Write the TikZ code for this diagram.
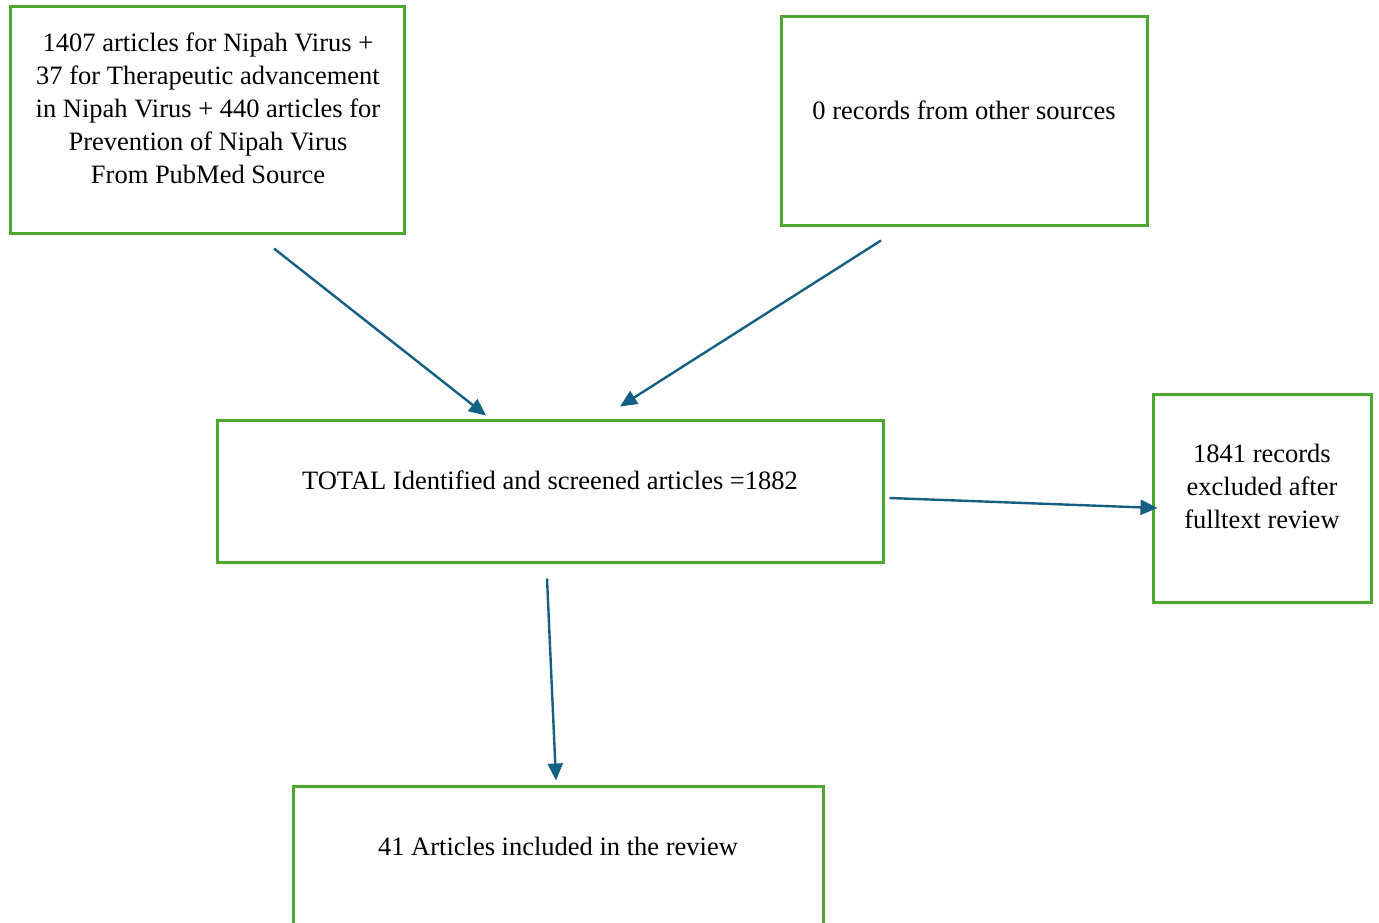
\documentclass[tikz,border=0pt]{standalone}
\usepackage{fontspec}
\setmainfont{Liberation Serif}
\usetikzlibrary{arrows.meta,calc}
\definecolor{boxgreen}{HTML}{4EA72E}
\definecolor{arrblue}{HTML}{156082}
\tikzset{
  box/.style={draw=boxgreen, line width=3pt, rectangle, inner sep=0pt},
  txt/.style={align=center, inner sep=0pt, font=\fontsize{26.5}{33}\selectfont},
  arr/.style={draw=arrblue, line width=2.4pt, -{Triangle[length=17pt,width=15pt]}},
}
\begin{document}
\begin{tikzpicture}[x=1pt,y=-1pt]
\useasboundingbox (0,0) rectangle (1379,923);
\clip (0,0) rectangle (1379,923);
\fill[white] (0,0) rectangle (1379,923);
% boxes
\node[box, minimum width=394pt, minimum height=226pt] (a) at (207,120) {};
\node[box, minimum width=366pt, minimum height=208pt] (b) at (964,121) {};
\node[box, minimum width=666pt, minimum height=142pt] (c) at (550,491) {};
\node[box, minimum width=218pt, minimum height=208pt] (d) at (1262,498) {};
\node[box, minimum width=530pt, minimum height=150pt] (e) at (558,861) {};
% texts
\node[txt] (ta) at (208,108.5) {1407 articles for Nipah Virus +\\37 for Therapeutic advancement\\in Nipah Virus + 440 articles for\\Prevention of Nipah Virus\\From PubMed Source};
\node[txt] (tb) at (964,110) {0 records from other sources};
\node[txt] (tc) at (550,480) {TOTAL Identified and screened articles =1882};
\node[txt] (td) at (1262,486) {1841 records\\excluded after\\fulltext review};
\node[txt] (te) at (558,846) {41 Articles included in the review};
% arrows
\draw[arr] ($(a.south)+(67,14)$) -- ($(c.north)+(-64,-3)$);
\draw[arr] ($(b.south)+(-83,14)$) -- ($(c.north)+(70,-12)$);
\draw[arr] ($(c.east)+(5,7)$) -- ($(d.west)+(6,10)$);
\draw[arr] ($(c.south)+(-3,15)$) -- ($(e.north)+(-2,-4)$);
\end{tikzpicture}
\end{document}
